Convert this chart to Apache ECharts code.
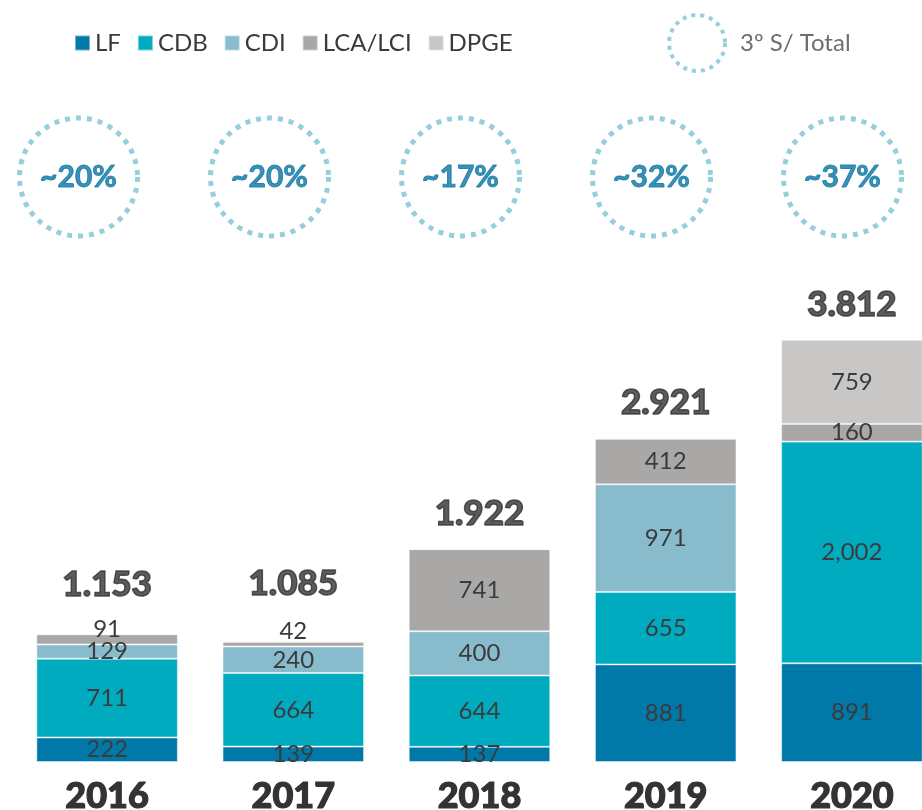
<!DOCTYPE html>
<html>
<head>
<meta charset="utf-8">
<script src="https://cdn.jsdelivr.net/npm/echarts@6/dist/echarts.min.js"></script>
<style>html,body{margin:0;padding:0;background:#fff}#c{width:922px;height:810px}</style>
</head>
<body>
<div id="c"></div>
<script>
const years = ['2016', '2017', '2018', '2019', '2020'];
const lf = [222, 139, 137, 881, 891];
const cdb = [711, 664, 644, 655, 2002];
const cdi = [129, 240, 400, 971, 0];
const lca = [91, 42, 741, 412, 160];
const dpge = [0, 0, 0, 0, 759];
const totals = [1153, 1085, 1922, 2921, 3812];
const share3 = [20, 20, 17, 32, 37];

const FONT = 'Lato, "Open Sans", sans-serif';
const colors = {LF: '#0078a8', CDB: '#00abc0', CDI: '#88bccd', 'LCA/LCI': '#a9a8a6', DPGE: '#c8c7c6'};
const dotColor = '#7cc2d2';

// label tweaks for tiny segments (styling only)
const smallLabelShift = {'LCA/LCI': {0: -10, 1: -13}};
const totalShift = {0: -14, 1: -23};

function fmtComma(v) { return v.toLocaleString('en-US'); }
function fmtDot(v) { return String(v).replace(/\B(?=(\d{3})+(?!\d))/g, '.'); }

function barSeries(name, arr) {
  return {
    name: name, type: 'bar', stack: 'total', barWidth: '76%',
    xAxisIndex: 0, yAxisIndex: 0,
    itemStyle: {color: colors[name], borderColor: 'rgba(255,255,255,0.45)', borderWidth: 1},
    label: {
      show: true, position: 'inside', color: '#3b3b3b', fontFamily: FONT, fontSize: 24,
      formatter: p => p.value ? fmtComma(p.value) : ''
    },
    data: arr.map((v, i) => {
      const s = smallLabelShift[name];
      if (s && s[i] !== undefined) return {value: v, label: {offset: [0, s[i]]}};
      return v;
    }),
    silent: true
  };
}

const chart = echarts.init(document.getElementById('c'), null, {renderer: 'canvas'});
chart.setOption({
  animation: false,
  backgroundColor: '#fff',
  legend: [{
    data: ['LF', 'CDB', 'CDI', 'LCA/LCI', 'DPGE'],
    left: 69, top: 26, itemWidth: 15, itemHeight: 15, itemGap: 16, icon: 'rect',
    textStyle: {fontFamily: FONT, fontSize: 24, color: '#3a3a3a'},
    selectedMode: false
  }, {
    data: ['3º S/ Total'],
    left: 662, top: 8, itemWidth: 56, itemHeight: 56, icon: 'circle',
    itemStyle: {color: 'transparent', borderColor: dotColor, borderWidth: 4, borderType: [4, 5]},
    textStyle: {fontFamily: FONT, fontSize: 24, color: '#6e6e6e', padding: [0, 0, 0, 10]},
    selectedMode: false
  }],
  grid: [
    {left: 14, width: 931, top: 319, bottom: 48, containLabel: false, outerBoundsMode: 'none'},
    {left: -17, width: 955, top: 117, height: 120, containLabel: false, outerBoundsMode: 'none'}
  ],
  xAxis: [{
    type: 'category', data: years, gridIndex: 0,
    axisLine: {show: false}, axisTick: {show: false},
    axisLabel: {fontFamily: FONT, fontSize: 36, fontWeight: 900, color: '#333333', margin: 16,
      textBorderColor: '#333333', textBorderWidth: 1.2}
  }, {
    type: 'category', data: years, gridIndex: 1, show: false
  }],
  yAxis: [{
    type: 'value', min: 0, max: 4000, show: false, gridIndex: 0, splitLine: {show: false}
  }, {
    type: 'value', min: -1, max: 1, show: false, gridIndex: 1, splitLine: {show: false}
  }],
  series: [
    barSeries('LF', lf),
    barSeries('CDB', cdb),
    barSeries('CDI', cdi),
    barSeries('LCA/LCI', lca),
    barSeries('DPGE', dpge),
    {
      name: 'Total', type: 'scatter', xAxisIndex: 0, yAxisIndex: 0, symbolSize: 0,
      silent: true, clip: false,
      label: {show: true, position: 'top', distance: 18, fontFamily: FONT, fontSize: 35, fontWeight: 900,
        color: '#333333', textBorderColor: '#333333', textBorderWidth: 1.5,
        formatter: p => fmtDot(p.value[1])},
      data: totals.map((v, i) => totalShift[i] !== undefined
        ? {value: [i, v], label: {offset: [0, totalShift[i]]}} : {value: [i, v]})
    },
    {
      name: '3º S/ Total', type: 'scatter', xAxisIndex: 1, yAxisIndex: 1,
      symbol: 'circle', symbolSize: 118, clip: false, silent: true,
      itemStyle: {color: 'transparent', borderColor: dotColor, borderWidth: 5, borderType: [5, 6]},
      label: {show: true, position: 'inside', fontFamily: FONT, fontSize: 30, fontWeight: 'bold',
        color: '#0a74a3', textBorderColor: '#0a74a3', textBorderWidth: 0.9,
        formatter: p => '~' + share3[p.dataIndex] + '%'},
      data: share3.map((v, i) => [i, 0])
    }
  ]
});
</script>
</body>
</html>
